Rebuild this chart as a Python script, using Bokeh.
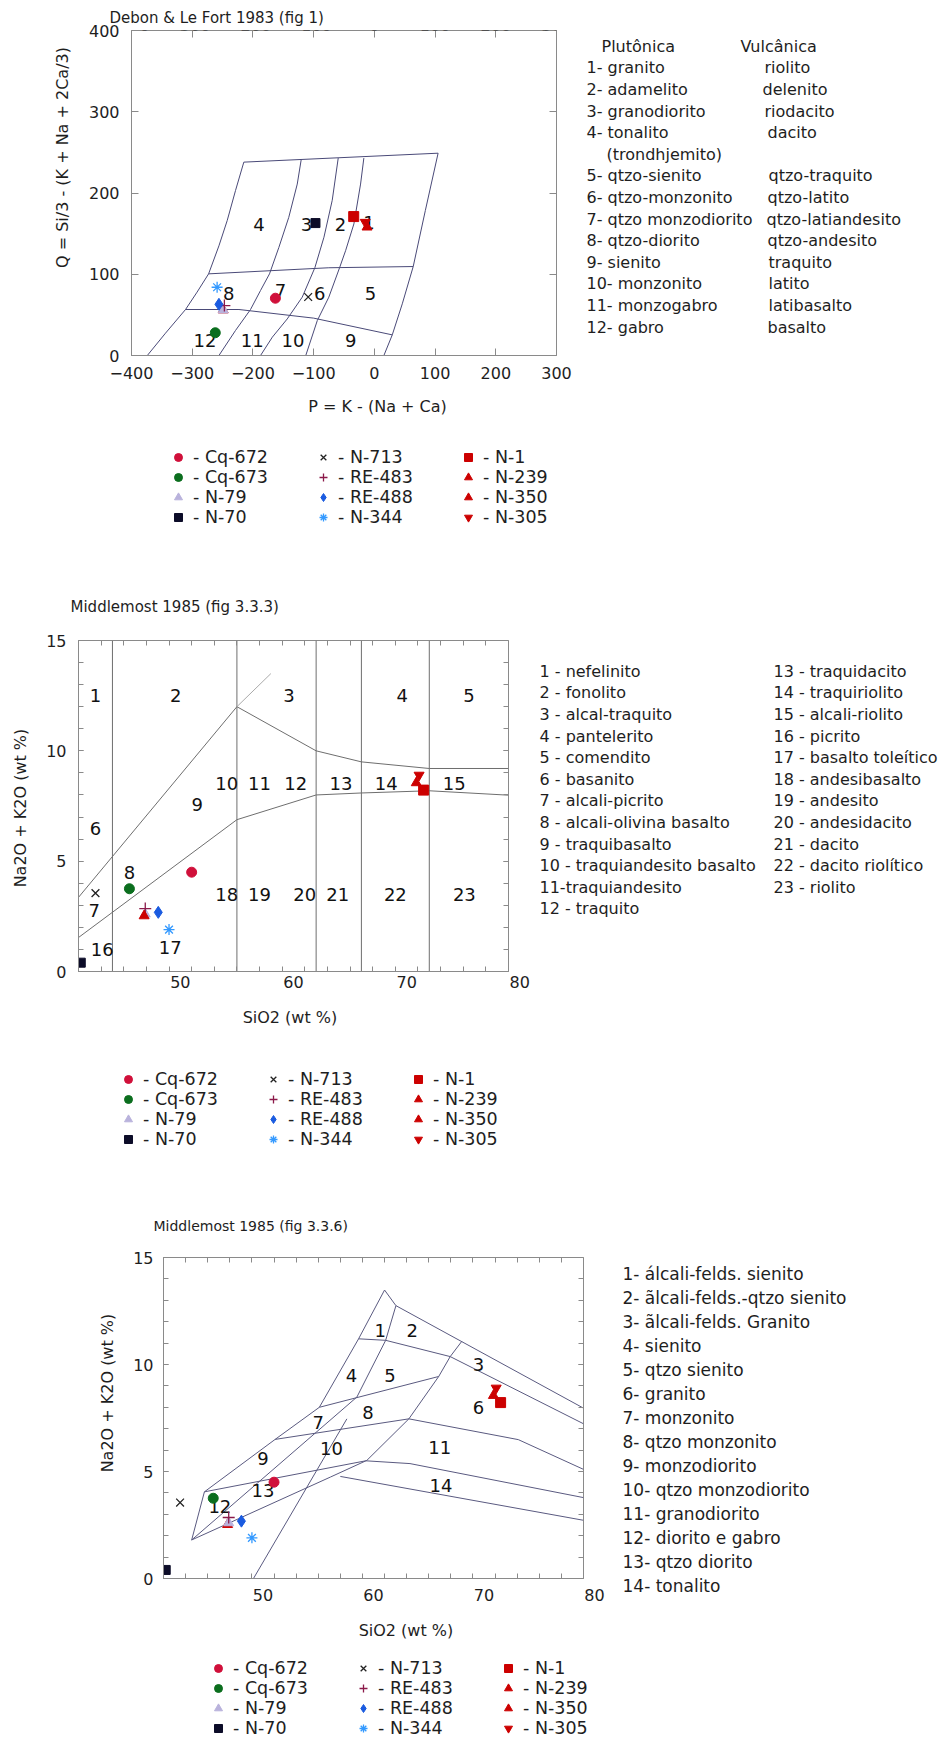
import math
from bokeh.plotting import figure
from bokeh.models import (Legend, LegendItem, LinearAxis, FixedTicker, Range1d,
                          CustomJSTickFormatter, Title)
from bokeh.layouts import column, row
from bokeh.embed import file_html
from bokeh.resources import INLINE
from bokeh.core.properties import value

FONT = "DejaVu Sans"
TXT = "#1e1e1e"
FRAME = "#8a8a8a"
W = 945
NAN = float("nan")

# ---------------- sample data ----------------
SAMPLES = ["Cq-672", "Cq-673", "N-79", "N-70", "N-713", "RE-483", "RE-488", "N-344",
           "N-1", "N-239", "N-350", "N-305"]
# Debon & Le Fort P-Q
DLF_P = [-163, -262, -249, -97, -109, -247, -256, -259, -34, -249, -12, -15]
DLF_Q = [70.5, 28, 56, 163, 72, 61.5, 63, 84, 171, 56, 158, 164]
# Middlemost TAS
SIO2 = [51.0, 45.5, 46.9, 41.2, 42.5, 46.9, 48.05, 49.0, 71.5, 46.8, 70.85, 71.1]
ALK = [4.5, 3.75, 2.6, 0.4, 3.55, 2.85, 2.68, 1.9, 8.22, 2.52, 8.55, 8.9]

# ---------------- Debon & Le Fort field boundaries ----------------
DLF_TOP_X = [-215, 105]
DLF_TOP_Y = [238, 249]
DLF_A_X = [-215, -228.7, -242.4, -256, -273, -292, -311, -344, -374]
DLF_A_Y = [238, 203, 166, 135, 100.5, 78, 56.6, 27.5, 0]
DLF_B_X = [-120.5, -127, -141, -157.3, -172.7, -187.5, -204, -228.7, -256]
DLF_B_Y = [241, 211, 170, 133, 100.5, 80, 56.6, 30.8, 0]
DLF_C_X = [-59.5, -69.4, -83, -98, -118.8, -143.5, -168, -187.5]
DLF_C_Y = [243, 191, 145.6, 108, 71.8, 45, 22.6, 0]
DLF_D_X = [-17.3, -22.7, -33.7, -47.4, -57.3, -75, -94, -113]
DLF_D_Y = [243, 211, 162, 129, 108, 71.8, 43, 0]
DLF_E_X = [105, 84, 64, 46, 29.5, 15.7]
DLF_E_Y = [249, 178.5, 109.5, 63.6, 25.4, 0]
DLF_MID_X = [-273, -75, 64]
DLF_MID_Y = [100.5, 108, 109.5]
DLF_LOW_X = [-311, -223, -100, 29.5]
DLF_LOW_Y = [56.6, 56.6, 46, 25.4]
DLF_FIELD = ["1", "2", "3", "4", "5", "6", "7", "8", "9", "10", "11", "12"]
DLF_FIELD_X = [-9, -55.7, -111.7, -190, -6.3, -90, -154.5, -239.7, -39, -134, -201, -279]
DLF_FIELD_Y = [164, 161, 161, 161, 76.7, 76, 80, 76.7, 18.5, 18.5, 18.5, 18.5]
DLF_XTICKS = [-400, -300, -200, -100, 0, 100, 200, 300]
DLF_YTICKS = [0, 100, 200, 300, 400]

# ---------------- Middlemost 3.3.3 ----------------
M3_VERT = [44, 55, 62, 66, 72]
M3_UP_X = [41, 55, 62, 66, 72, 79]
M3_UP_Y = [3.36, 12.0, 10.0, 9.5, 9.2, 9.2]
M3_EXT_X = [55, 58]
M3_EXT_Y = [12.0, 13.5]
M3_LOW_X = [41, 55, 62, 66, 72, 79]
M3_LOW_Y = [1.54, 6.88, 8.0, 8.09, 8.19, 7.99]
M3_FIELD = [str(i) for i in range(1, 24)]
M3_FIELD_X = [42.5, 49.6, 59.6, 69.6, 75.5, 42.5, 42.4, 45.5, 51.5, 54.1, 57.0, 60.2,
              64.2, 68.2, 74.2, 43.1, 49.1, 54.1, 57.0, 61.0, 63.9, 69.0, 75.1]
M3_FIELD_Y = [12.5, 12.5, 12.5, 12.5, 12.5, 6.46, 2.78, 4.49, 7.56, 8.5, 8.5, 8.5,
              8.5, 8.5, 8.5, 1.0, 1.1, 3.5, 3.5, 3.5, 3.5, 3.5, 3.5]
TAS_XTICKS = [50, 60, 70]
TAS_XMINOR = list(range(41, 80, 2))
TAS_YTICKS = [0, 5, 10, 15]
TAS_YMINOR = list(range(0, 16))

# ---------------- Middlemost 3.3.6 ----------------
M6_LINES = {
    "outer": ([43.55, 44.7, 51.1, 55.1, 58.65, 61.0, 62.03, 79],
              [1.8, 4.05, 6.5, 8.0, 11.2, 13.48, 12.75, 7.96]),
    "h1": ([58.65, 61.1, 66.94, 79], [11.2, 11.13, 10.37, 7.23]),
    "h2": ([55.1, 65.9], [8.0, 9.44]),
    "h3": ([51.1, 63.2, 73.1, 79], [6.5, 7.46, 6.49, 5.1]),
    "h4": ([44.7, 59.3, 63.3, 79], [4.05, 5.5, 5.37, 3.78]),
    "h5a": ([43.55, 56.1], [1.8, 4.74]),
    "h5b": ([57.0, 79], [4.77, 2.72]),
    "d1": ([62.03, 61.1, 58.5, 43.55], [12.75, 11.13, 8.48, 1.8]),
    "d2": ([68.0, 66.94, 65.9, 63.2, 59.4, 56.1], [11.09, 10.37, 9.44, 7.46, 5.52, 4.74]),
    "d3": ([57.59, 49.14], [7.46, 0]),
}
M6_FIELD = [str(i) for i in range(1, 15)]
M6_FIELD_X = [60.6, 63.5, 69.5, 58.0, 61.5, 69.5, 55.0, 59.5, 50.0, 56.2, 66.0, 46.1, 50.0, 66.1]
M6_FIELD_Y = [11.6, 11.6, 10.0, 9.5, 9.5, 8.0, 7.3, 7.75, 5.6, 6.07, 6.14, 3.37, 4.12, 4.35]

# ---------------- text lists ----------------
DLF_TITLE = "Debon & Le Fort 1983 (fig 1)"
M3_TITLE = "Middlemost 1985 (fig 3.3.3)"
M6_TITLE = "Middlemost 1985 (fig 3.3.6)"
DLF_YLAB = "Q = Si/3 - (K + Na + 2Ca/3)"
DLF_XLAB = "P = K - (Na + Ca)"
TAS_YLAB = "Na2O + K2O  (wt %)"
TAS_XLAB = "SiO2  (wt %)"
DLF_HEAD = ["Plutônica", "Vulcânica"]
DLF_PLUT = ["1- granito", "2- adamelito", "3- granodiorito", "4- tonalito", "(trondhjemito)",
            "5- qtzo-sienito", "6- qtzo-monzonito", "7- qtzo monzodiorito", "8- qtzo-diorito",
            "9- sienito", "10- monzonito", "11- monzogabro", "12- gabro"]
DLF_VULC = ["riolito", "delenito", "riodacito", "dacito", "", "qtzo-traquito", "qtzo-latito",
            "qtzo-latiandesito", "qtzo-andesito", "traquito", "latito", "latibasalto", "basalto"]
M3_COL1 = ["1 - nefelinito", "2 - fonolito", "3 - alcal-traquito", "4 - pantelerito",
           "5 - comendito", "6 - basanito", "7 - alcali-picrito", "8 - alcali-olivina basalto",
           "9 - traquibasalto", "10 - traquiandesito basalto", "11-traquiandesito", "12 - traquito"]
M3_COL2 = ["13 - traquidacito", "14 - traquiriolito", "15 - alcali-riolito", "16 - picrito",
           "17 - basalto toleítico", "18 - andesibasalto", "19 - andesito", "20 - andesidacito",
           "21 - dacito", "22 - dacito riolítico", "23 - riolito"]
M6_LIST = ["1- álcali-felds. sienito", "2- ãlcali-felds.-qtzo sienito", "3- ãlcali-felds. Granito",
           "4- sienito", "5- qtzo sienito", "6- granito", "7- monzonito", "8- qtzo monzonito",
           "9- monzodiorito", "10- qtzo monzodiorito", "11- granodiorito", "12- diorito e gabro",
           "13- qtzo diorito", "14- tonalito"]

STYLE = {
    "Cq-672": dict(m="circle", s=10, fill="#d0103a", line="#d0103a", lw=1),
    "Cq-673": dict(m="circle", s=10, fill="#0b6e1e", line="#0b6e1e", lw=1),
    "N-79": dict(m="triangle", s=10, fill="#b9b2dc", line="#b9b2dc", lw=1),
    "N-70": dict(m="square", s=9, fill="#0c0c28", line="#0c0c28", lw=1),
    "N-713": dict(m="x", s=11, fill="#222222", line="#222222", lw=1.3),
    "RE-483": dict(m="cross", s=12, fill="#8b1a4a", line="#8b1a4a", lw=1.3),
    "RE-488": dict(m="diamond", s=12, fill="#1a5be0", line="#1a5be0", lw=1),
    "N-344": dict(m="asterisk", s=11, fill="#3399ff", line="#3399ff", lw=1.3),
    "N-1": dict(m="square", s=10, fill="#cc0000", line="#cc0000", lw=1),
    "N-239": dict(m="triangle", s=10, fill="#cc0000", line="#cc0000", lw=1),
    "N-350": dict(m="triangle", s=10, fill="#cc0000", line="#cc0000", lw=1),
    "N-305": dict(m="inverted_triangle", s=10, fill="#cc0000", line="#cc0000", lw=1),
}


def strip(w, h):
    s = figure(width=w, height=h, x_range=Range1d(0, w), y_range=Range1d(h, 0),
               output_backend="svg", toolbar_location=None, title=None, frame_align=False,
               x_axis_type=None, y_axis_type=None, min_border=0, min_border_left=0,
               min_border_right=0, min_border_top=0, min_border_bottom=0)
    s.outline_line_color = None
    s.background_fill_color = "white"
    s.border_fill_color = "white"
    s.grid.visible = False
    return s


def put(s, x0, y0, xs, ys, texts, size="16px", align="left", baseline="middle", angle=0.0):
    s.text(x=[x - x0 for x in xs], y=[y - y0 for y in ys], text=texts, angle=angle,
           text_font=value(FONT), text_font_size=size, text_color=TXT,
           text_align=align, text_baseline=baseline)


def chart(w, h, xr, yr, lb, rb, tb, bb):
    p = figure(width=w, height=h, x_range=Range1d(*xr), y_range=Range1d(*yr),
               output_backend="svg", toolbar_location=None, title=None, frame_align=False,
               min_border_left=lb, min_border_right=rb, min_border_top=tb, min_border_bottom=bb)
    p.xgrid.visible = False
    p.ygrid.visible = False
    p.outline_line_color = FRAME
    p.background_fill_color = "white"
    p.border_fill_color = "white"
    return p


def style_axis(ax, tin, minor_in, standoff):
    ax.axis_line_color = FRAME
    ax.major_tick_line_color = FRAME
    ax.minor_tick_line_color = FRAME
    ax.major_tick_out = 0
    ax.minor_tick_out = 0
    ax.major_tick_in = tin
    ax.minor_tick_in = minor_in
    ax.major_label_text_font = FONT
    ax.major_label_text_font_size = "16px"
    ax.major_label_text_color = TXT
    ax.major_label_standoff = standoff


def setup_axes(p, xt, yt, xin, yin, minor_in, xst, yst, xr, yr):
    style_axis(p.xaxis[0], xin, minor_in, xst)
    p.xaxis[0].ticker = xt
    style_axis(p.yaxis[0], yin, minor_in, yst)
    p.yaxis[0].ticker = yt
    top = LinearAxis(ticker=xt, formatter=CustomJSTickFormatter(code="return ''"),
                     fixed_location=yr[1])
    style_axis(top, xin, minor_in, 0)
    right = LinearAxis(ticker=yt, formatter=CustomJSTickFormatter(code="return ''"),
                       fixed_location=xr[1])
    style_axis(right, yin, minor_in, 0)
    p.add_layout(top, "above")
    p.add_layout(right, "right")


def add_points(p, xs, ys, order):
    for i in order:
        st = STYLE[SAMPLES[i]]
        p.scatter(x=[xs[i]], y=[ys[i]], marker=st["m"], size=st["s"],
                  fill_color=st["fill"], line_color=st["line"], line_width=st["lw"])


def add_key(s, loc):
    rs = []
    for name in SAMPLES:
        st = STYLE[name]
        rs.append(s.scatter(x=[NAN], y=[NAN], marker=st["m"], size=st["s"], fill_color=st["fill"],
                            line_color=st["line"], line_width=st["lw"]))
    items = [LegendItem(label="- " + n, renderers=[r]) for n, r in zip(SAMPLES, rs)]
    lg = Legend(items=items, ncols=3, orientation="vertical", location=loc,
                label_text_font=FONT, label_text_font_size="17.5px", label_text_color=TXT,
                glyph_width=20, glyph_height=20, label_height=20, label_width=120,
                label_standoff=5, spacing=0, padding=0, margin=0,
                border_line_alpha=0, background_fill_alpha=0)
    s.add_layout(lg, "center")


def field_text(p, xs, ys, txt):
    p.text(x=xs, y=ys, text=txt, text_font=value(FONT), text_font_size="18px",
           text_align="center", text_baseline="middle", text_color="#111111")


# ======== Section 1: Debon & Le Fort (rows y 0..391) ========
Y1 = strip(81, 391)
put(Y1, 0, 0, [62], [157], [DLF_YLAB], align="center", angle=math.pi / 2)
P1 = chart(491, 391, (-400, 300), (0, 400), 50, 16, 30, 36)
setup_axes(P1, FixedTicker(ticks=DLF_XTICKS, minor_ticks=[]),
           FixedTicker(ticks=DLF_YTICKS, minor_ticks=[]), 7, 7, 0, 11, 12,
           (-400, 300), (0, 400))
P1.xaxis[0].major_label_overrides = {t: str(t) for t in DLF_XTICKS}
P1.add_layout(Title(text=DLF_TITLE, align="left", offset=-22, standoff=8,
                    text_font=FONT, text_font_size="15px", text_color=TXT,
                    text_font_style="normal", vertical_align="bottom"), "above")
LC1 = "#4a4a78"
for xs, ys in [(DLF_TOP_X, DLF_TOP_Y), (DLF_A_X, DLF_A_Y), (DLF_B_X, DLF_B_Y),
               (DLF_C_X, DLF_C_Y), (DLF_D_X, DLF_D_Y), (DLF_E_X, DLF_E_Y),
               (DLF_MID_X, DLF_MID_Y), (DLF_LOW_X, DLF_LOW_Y)]:
    P1.line(xs, ys, line_color=LC1, line_width=1)
field_text(P1, DLF_FIELD_X, DLF_FIELD_Y, DLF_FIELD)
add_points(P1, DLF_P, DLF_Q, [9, 0, 1, 2, 3, 4, 5, 6, 7, 8, 10, 11])
R1 = strip(373, 391)
put(R1, 572, 0, [601, 740], [46, 46], DLF_HEAD)
rows_y = [67.3 + 21.6 * k for k in range(len(DLF_PLUT))]
put(R1, 572, 0, [606 if t.startswith("(") else 586 for t in DLF_PLUT], rows_y, DLF_PLUT)
C2X = [764, 762, 764, 767, 767, 768, 767, 766, 767, 768, 768, 768, 767]
vk = [k for k in range(len(DLF_VULC)) if DLF_VULC[k]]
put(R1, 572, 0, [C2X[k] for k in vk], [rows_y[k] for k in vk], [DLF_VULC[k] for k in vk])

S1 = strip(W, 237)
put(S1, 0, 391, [377], [406], [DLF_XLAB], align="center")
add_key(S1, (168, 101))
put(S1, 0, 391, [70], [606], [M3_TITLE], size="15px")

# ======== Section 2: Middlemost 3.3.3 (rows y 628..1007) ========
Y2 = strip(33, 379)
put(Y2, 0, 628, [20], [805], [TAS_YLAB], align="center", angle=math.pi / 2)
P2 = chart(476, 379, (41, 79), (0, 15), 45, 1, 12, 36)
setup_axes(P2, FixedTicker(ticks=TAS_XTICKS, minor_ticks=TAS_XMINOR),
           FixedTicker(ticks=TAS_YTICKS, minor_ticks=TAS_YMINOR), 0, 5, 5, 4, 12,
           (41, 79), (0, 15))
LC2 = "#6e6e6e"
for xv in M3_VERT:
    P2.line([xv, xv], [0, 15], line_color=LC2, line_width=1)
P2.line(M3_UP_X, M3_UP_Y, line_color=LC2, line_width=1)
P2.line(M3_LOW_X, M3_LOW_Y, line_color=LC2, line_width=1)
P2.line(M3_EXT_X, M3_EXT_Y, line_color="#aaaaaa", line_width=1)
field_text(P2, M3_FIELD_X, M3_FIELD_Y, M3_FIELD)
add_points(P2, SIO2, ALK, [2, 0, 1, 3, 4, 5, 6, 7, 8, 9, 10, 11])
R2 = strip(436, 379)
put(R2, 509, 628, [519.3], [975], ["80"], align="center", baseline="top")
put(R2, 509, 628, [539] * len(M3_COL1), [670.7 + 21.6 * k for k in range(len(M3_COL1))], M3_COL1)
put(R2, 509, 628, [773] * len(M3_COL2), [670.7 + 21.6 * k for k in range(len(M3_COL2))], M3_COL2)

S2 = strip(W, 238)
put(S2, 0, 1007, [292], [1017], [TAS_XLAB], align="center")
add_key(S2, (118, 96))
put(S2, 0, 1007, [153], [1225], [M6_TITLE], size="14px")

# ======== Section 3: Middlemost 3.3.6 (rows y 1245..1614) ========
Y3 = strip(123, 369)
put(Y3, 0, 1245, [107], [1390], [TAS_YLAB], align="center", angle=math.pi / 2)
P3 = chart(461, 369, (41, 79), (0, 15), 40, 1, 12, 36)
setup_axes(P3, FixedTicker(ticks=TAS_XTICKS, minor_ticks=TAS_XMINOR),
           FixedTicker(ticks=TAS_YTICKS, minor_ticks=TAS_YMINOR), 0, 5, 5, 10, 10,
           (41, 79), (0, 15))
LC3 = "#5a5a80"
for key, (xs, ys) in M6_LINES.items():
    P3.line(xs, ys, line_color=LC3, line_width=1)
field_text(P3, M6_FIELD_X, M6_FIELD_Y, M6_FIELD)
add_points(P3, SIO2, ALK, [9, 0, 1, 2, 3, 4, 5, 6, 7, 8, 10, 11])
R3 = strip(361, 369)
put(R3, 584, 1245, [594], [1588], ["80"], align="center", baseline="top")
put(R3, 584, 1245, [622] * len(M6_LIST), [1273.3 + 23.98 * k for k in range(len(M6_LIST))],
    M6_LIST, size="17px")

S3 = strip(W, 133)
put(S3, 0, 1614, [408], [1630], [TAS_XLAB], align="center")
add_key(S3, (208, 9))

layout = column(row(Y1, P1, R1, spacing=0), S1,
                row(Y2, P2, R2, spacing=0), S2,
                row(Y3, P3, R3, spacing=0), S3, spacing=0)
open("out.html", "w").write(file_html(layout, INLINE))
